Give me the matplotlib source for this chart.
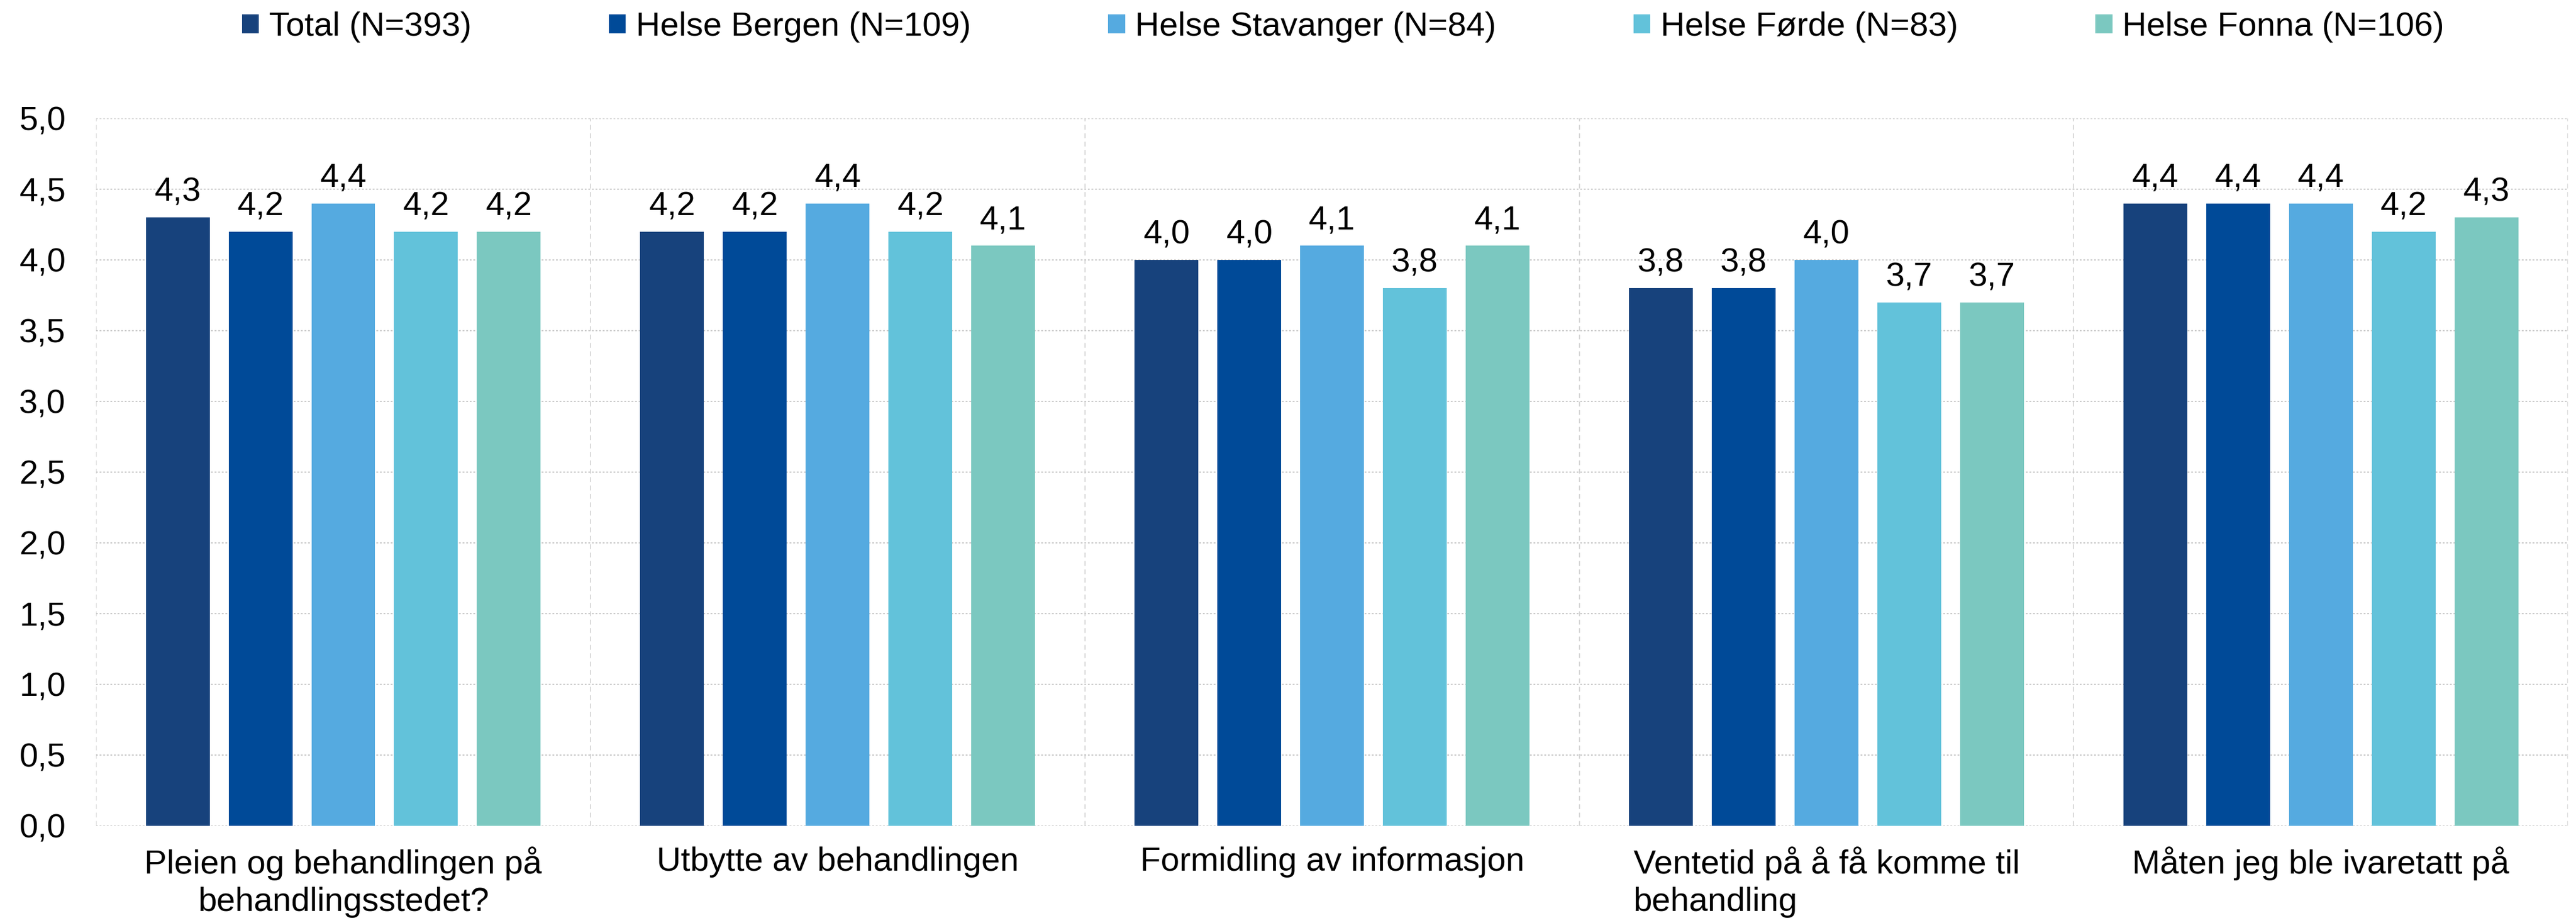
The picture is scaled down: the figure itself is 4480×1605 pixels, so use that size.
import matplotlib.pyplot as plt
import numpy as np

plt.rcParams['font.family'] = ['Liberation Sans', 'DejaVu Sans']

categories = ['Pleien og behandlingen på\nbehandlingsstedet?',
              'Utbytte av behandlingen',
              'Formidling av informasjon',
              'Ventetid på å få komme til\nbehandling',
              'Måten jeg ble ivaretatt på']
series_names = ['Total (N=393)', 'Helse Bergen (N=109)', 'Helse Stavanger (N=84)',
                'Helse Førde (N=83)', 'Helse Fonna (N=106)']
total = [4.3, 4.2, 4.0, 3.8, 4.4]
bergen = [4.2, 4.2, 4.0, 3.8, 4.4]
stavanger = [4.4, 4.4, 4.1, 4.0, 4.4]
forde = [4.2, 4.2, 3.8, 3.7, 4.2]
fonna = [4.2, 4.1, 4.1, 3.7, 4.3]
yticks = [0.0, 0.5, 1.0, 1.5, 2.0, 2.5, 3.0, 3.5, 4.0, 4.5, 5.0]

colors = ['#17427C', '#004A98', '#55AAE0', '#62C2DA', '#7BC8C0']
fs = 42

fig = plt.figure(figsize=(44.8, 16.05), dpi=100)
ax = fig.add_axes([0.0373, 0.1053, 0.9596, 0.7664])

x = np.arange(len(categories))
pitch = 0.1674
width = 0.129
all_series = [total, bergen, stavanger, forde, fonna]
for i, (vals, name, c) in enumerate(zip(all_series, series_names, colors)):
    pos = x + (i - 2) * pitch
    bars = ax.bar(pos, vals, width, color=c, label=name, zorder=3)
    for b, v in zip(bars, vals):
        ax.annotate(f'{v:.1f}'.replace('.', ','), (b.get_x() + b.get_width() / 2, v),
                    xytext=(0, 12), textcoords='offset points',
                    ha='center', va='bottom', fontsize=fs)

ax.set_xlim(-0.5, len(categories) - 0.5)
ax.set_ylim(0, 5)
ax.set_yticks(yticks)
ax.set_yticklabels([f'{t:.1f}'.replace('.', ',') for t in yticks], fontsize=fs)
ax.set_xticks(x)
labels = ax.set_xticklabels(categories, fontsize=fs, linespacing=1.25)
# the "Ventetid" label wraps left-aligned in the original
labels[3].set_multialignment('left')
ax.tick_params(axis='both', length=0)
ax.tick_params(axis='y', pad=38)
ax.tick_params(axis='x', pad=26)
for s in ax.spines.values():
    s.set_visible(False)

ax.yaxis.grid(True, color='#C8C8C8', linestyle=(0, (1.5, 1.5)), linewidth=1.5, zorder=0)
for b in np.arange(-0.5, len(categories), 1.0):
    ax.axvline(b, color='#D9D9D9', linestyle=(0, (4, 3)), linewidth=1.5, zorder=0)

fig.legend(loc='center', bbox_to_anchor=(2336 / 4480, 1 - 47 / 1605), ncol=5,
           frameon=False, fontsize=fs, handlelength=0.5, handleheight=0.5,
           handletextpad=0.3, columnspacing=4.1)

fig.savefig('out.png', dpi=100)
